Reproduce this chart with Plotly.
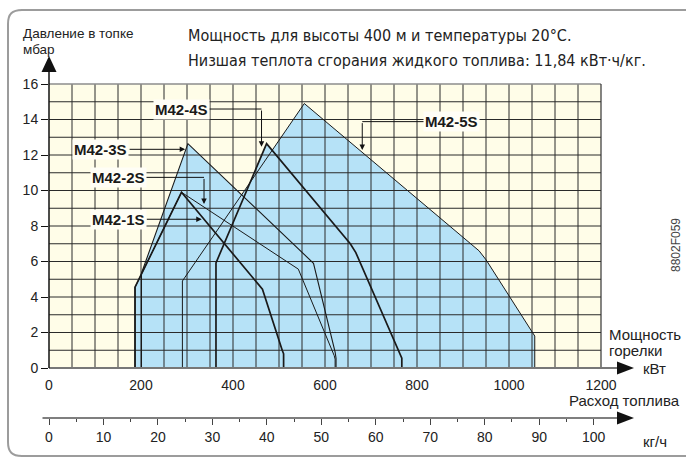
import numpy as np
import plotly.graph_objects as go

# ---------------- data ----------------
HEAT = 11.84  # kWh/kg

models = ["M42-1S", "M42-2S", "M42-3S", "M42-4S", "M42-5S"]
# burner output kW / furnace pressure mbar (envelope outlines)
m1_x = [187, 187, 288, 464, 507, 510, 510]
m1_y = [0, 4.55, 9.9, 4.44, 1.0, 0.8, 0]
m2_x = [187, 187, 288, 542, 620, 622, 622]
m2_y = [0, 4.55, 9.9, 5.57, 0.7, 0.5, 0]
m3_x = [201, 201, 302, 575, 622, 624, 624]
m3_y = [0, 5.34, 12.64, 5.9, 0.9, 0.55, 0]
m4_x = [363, 363, 473, 655, 667, 759, 767, 767]
m4_y = [0, 5.92, 12.64, 7.0, 6.5, 1.0, 0.55, 0]
m5_x = [290, 290, 555, 935, 950, 1056, 1056]
m5_y = [0, 4.9, 14.9, 6.6, 6.1, 1.8, 0]
line_w = [1.7, 1.0, 1.1, 1.7, 1.0]

kw_ticks = [0, 200, 400, 600, 800, 1000, 1200]
mbar_ticks = [0, 2, 4, 6, 8, 10, 12, 14, 16]
kg_ticks = [0, 10, 20, 30, 40, 50, 60, 70, 80, 90, 100]
kg_minor = [5, 15, 25, 35, 45, 55, 65, 75, 85, 95]

# label: (text, label centre kW, mbar, leader start kW, corner kW, level mbar, tip mbar)
labels = [
    ("M42-4S", 289, 14.59, 343, 462, 14.59, 12.47),
    ("M42-3S", 111, 12.32, 172, 296, 12.32, None),
    ("M42-2S", 152, 10.74, 209, 337, 10.74, 9.24),
    ("M42-1S", 152, 8.38, 209, 332, 8.38, None),
    ("M42-5S", 876, 13.88, 817, 681, 13.88, 12.28),
]

# ---------------- geometry helpers ----------------
PL, PR, PT, PB = 49, 601, 84, 418
def X(px):
    return (px - PL) / (PR - PL)
def Y(py):
    return (PB - py) / (PB - PT)

BLUE = "#B6E2F7"
CREAM = "#FFFDE8"
GRID = "#2a2a2a"
TXT = "#222222"
FONT = "Liberation Sans, Arial, sans-serif"
CFONT = "DejaVu Sans Condensed, Liberation Sans Narrow, Roboto, sans-serif"

fig = go.Figure()

xs_all = [m1_x, m2_x, m3_x, m4_x, m5_x]
ys_all = [m1_y, m2_y, m3_y, m4_y, m5_y]

# fills
for xs, ys in zip(xs_all, ys_all):
    fig.add_trace(go.Scatter(x=xs, y=ys, fill="toself", fillcolor=BLUE,
                             mode="lines", line=dict(width=0, color=BLUE),
                             hoverinfo="skip", showlegend=False))

# grid (drawn over the fills)
gx, gy = [], []
for v in np.arange(50, 1200, 50):
    gx += [v, v, None]
    gy += [0, 16, None]
for v in np.arange(1, 16, 1):
    gx += [0, 1200, None]
    gy += [v, v, None]
fig.add_trace(go.Scatter(x=gx, y=gy, mode="lines", line=dict(color=GRID, width=1),
                         hoverinfo="skip", showlegend=False))

# envelope outlines
for xs, ys, w in zip(xs_all, ys_all, line_w):
    fig.add_trace(go.Scatter(x=xs, y=ys, mode="lines",
                             line=dict(color="#1a1a1a", width=w),
                             hoverinfo="skip", showlegend=False))

# dummy for fuel axis
fig.add_trace(go.Scatter(x=[0], y=[0], xaxis="x2", yaxis="y2", mode="markers",
                         marker=dict(opacity=0), hoverinfo="skip", showlegend=False))

shapes = []
# cream plot background
shapes.append(dict(type="rect", xref="x", yref="y", x0=0, x1=1200, y0=0, y1=16,
                   fillcolor=CREAM, line=dict(width=0), layer="below"))
# borders
shapes.append(dict(type="line", xref="paper", yref="paper", x0=0, x1=1, y0=1, y1=1,
                   line=dict(color="#8c8c8c", width=1.5)))
shapes.append(dict(type="line", xref="paper", yref="paper", x0=1, x1=1, y0=Y(368), y1=1,
                   line=dict(color="#333", width=1.2)))
# main x axis + arrow
shapes.append(dict(type="line", xref="paper", yref="paper", x0=0, x1=X(620), y0=Y(368), y1=Y(368),
                   line=dict(color="#777", width=2)))
shapes.append(dict(type="path", xref="paper", yref="paper",
                   path=f"M {X(634)} {Y(368)} L {X(617)} {Y(361.5)} L {X(617)} {Y(374.5)} Z",
                   fillcolor="#111", line=dict(width=0)))
# y axis + arrow
shapes.append(dict(type="line", xref="paper", yref="paper", x0=0, x1=0, y0=Y(368), y1=Y(70),
                   line=dict(color="#111", width=1.5)))
shapes.append(dict(type="path", xref="paper", yref="paper",
                   path=f"M {X(49)} {Y(56)} L {X(41.5)} {Y(72)} L {X(56.5)} {Y(72)} Z",
                   fillcolor="#111", line=dict(width=0)))
# fuel axis line + arrow
shapes.append(dict(type="line", xref="paper", yref="paper", x0=X(42.5), x1=X(620), y0=Y(418), y1=Y(418),
                   line=dict(color="#555", width=1.5)))
shapes.append(dict(type="path", xref="paper", yref="paper",
                   path=f"M {X(634)} {Y(418)} L {X(617)} {Y(411.5)} L {X(617)} {Y(424.5)} Z",
                   fillcolor="#111", line=dict(width=0)))
# frame (rounded, open at the right)
fl, ft, fb, rr = 8, 10, 456, 14
fpath = (f"M {X(686)} {Y(ft)} L {X(fl + rr)} {Y(ft)} "
         f"C {X(fl + 4)} {Y(ft)} {X(fl)} {Y(ft + 4)} {X(fl)} {Y(ft + rr)} "
         f"L {X(fl)} {Y(fb - rr)} "
         f"C {X(fl)} {Y(fb - 4)} {X(fl + 4)} {Y(fb)} {X(fl + rr)} {Y(fb)} L {X(686)} {Y(fb)}")
shapes.append(dict(type="path", xref="paper", yref="paper", path=fpath, layer="above",
                   fillcolor="rgba(0,0,0,0)", line=dict(color="#9c9c9c", width=2)))

annotations = []
# leaders
for text, lx, ly, sx, cx, lev, tip in labels:
    if tip is None:
        annotations.append(dict(x=cx, y=lev, ax=sx, ay=lev, xref="x", yref="y", axref="x", ayref="y",
                                text="", showarrow=True, arrowhead=2, arrowsize=1.1, arrowwidth=1,
                                arrowcolor="#111", standoff=0, startstandoff=0))
    else:
        shapes.append(dict(type="line", xref="x", yref="y", x0=sx, x1=cx, y0=lev, y1=lev,
                           line=dict(color="#111", width=1)))
        annotations.append(dict(x=cx, y=tip, ax=cx, ay=lev, xref="x", yref="y", axref="x", ayref="y",
                                text="", showarrow=True, arrowhead=2, arrowsize=1.1, arrowwidth=1,
                                arrowcolor="#111", standoff=0, startstandoff=0))
    annotations.append(dict(x=lx, y=ly, xref="x", yref="y", text=f"<b>{text}</b>", showarrow=False,
                            font=dict(family=FONT, size=15, color="#1a1a1a"),
                            bgcolor="#FFFEF6", borderpad=1))

def txt(s, px, py, size=14, anchor="left", family=FONT, color=TXT, angle=0):
    annotations.append(dict(x=X(px), y=Y(py), xref="paper", yref="paper", text=s, showarrow=False,
                            xanchor=anchor, yanchor="middle", textangle=angle,
                            font=dict(family=family, size=size, color=color)))

txt("Давление в топке", 21, 33.5, 13.5)
txt("мбар", 21, 50, 13.5)
txt("Мощность для высоты 400 м и температуры 20°C.", 186, 35, 16, family=CFONT)
txt("Низшая теплота сгорания жидкого топлива: 11,84 кВт·ч/кг.", 186, 60, 16, family=CFONT)
txt("Мощность", 607, 334, 15)
txt("горелки", 607, 350, 15)
txt("кВт", 641, 368, 15)
txt("Расход топлива", 682, 400, 15, anchor="right")
txt("кг/ч", 641, 442, 15)
txt("8802F059", 676, 245, 12, anchor="center", color="#444", angle=-90)

fig.update_layout(
    width=687, height=461,
    margin=dict(l=PL, r=687 - PR, t=PT, b=461 - PB),
    paper_bgcolor="white", plot_bgcolor="white",
    showlegend=False,
    shapes=shapes, annotations=annotations,
    xaxis=dict(range=[0, 1200], domain=[0, 1], anchor="y", tickvals=kw_ticks,
               ticktext=[str(v) for v in kw_ticks], showgrid=False, zeroline=False, showline=False,
               ticks="outside", ticklen=4, tickcolor="rgba(0,0,0,0)",
               tickfont=dict(family=FONT, size=14, color=TXT)),
    yaxis=dict(range=[0, 16], domain=[Y(368), 1], anchor="x", tickvals=mbar_ticks,
               ticktext=[str(v) for v in mbar_ticks], showgrid=False, zeroline=False, showline=False,
               ticks="outside", ticklen=7, tickcolor="#111", tickwidth=1,
               tickfont=dict(family=FONT, size=14, color=TXT)),
    xaxis2=dict(range=[0, 1200 / HEAT], domain=[0, 1], anchor="y2", tickvals=kg_ticks,
                ticktext=[str(v) for v in kg_ticks], showgrid=False, zeroline=False, showline=False,
                ticks="outside", ticklen=6, tickcolor="#444", tickwidth=1,
                minor=dict(tickvals=kg_minor, ticks="outside", ticklen=3, tickcolor="#444", tickwidth=1),
                tickfont=dict(family=FONT, size=14, color=TXT)),
    yaxis2=dict(domain=[0, 0.002], anchor="x2", visible=False, range=[0, 1]),
)

fig.write_html("out.html", config={"displayModeBar": False},
               post_script="document.body.style.margin='0';document.body.style.padding='0';document.body.style.overflow='hidden';")
